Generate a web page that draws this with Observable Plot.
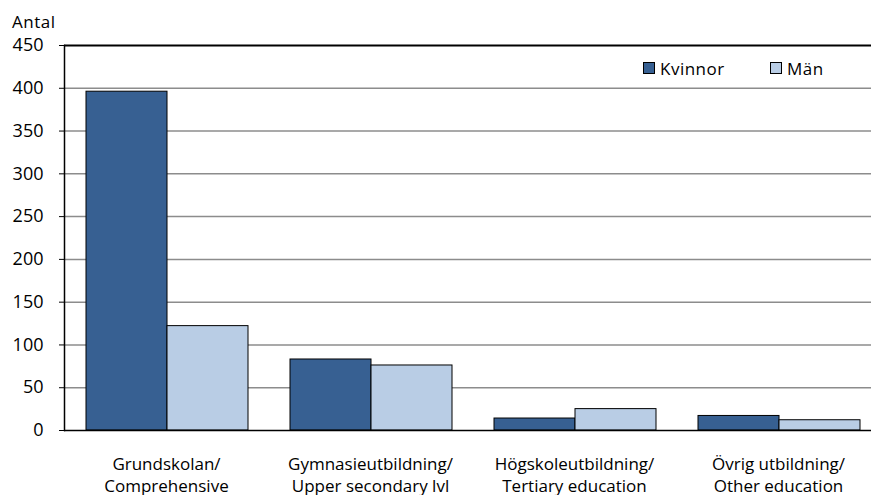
<!DOCTYPE html>
<html>
<head>
<meta charset="utf-8">
<script src="https://cdn.jsdelivr.net/npm/d3@7"></script>
<script src="https://cdn.jsdelivr.net/npm/@observablehq/plot@0.6"></script>
<style>
  html, body { margin: 0; padding: 0; background: #fff; overflow: hidden; }
  #wrap { position: relative; width: 871px; height: 495px; font-family: "Open Sans", "Noto Sans", sans-serif; }
  #ylabel { position: absolute; left: 12px; top: 13px; font-size: 17px; letter-spacing: 0.5px; color: #000; line-height: 1; }
  .item { position: absolute; top: 59.5px; display: flex; align-items: center; gap: 5px; font-size: 17px; letter-spacing: 0.5px; color: #000; line-height: 1; }
  .sw { width: 10px; height: 10px; border: 1px solid #000; display: inline-block; }
</style>
</head>
<body>
<div id="wrap">
  <div id="chart"></div>
  <div id="ylabel">Antal</div>
  <div id="legend"></div>
</div>
<script>
const categories = ["Grundskolan", "Gymnasieutbildning", "Högskoleutbildning", "Övrig utbildning"];
const categoryLabels = ["Grundskolan/\nComprehensive", "Gymnasieutbildning/\nUpper secondary lvl", "Högskoleutbildning/\nTertiary education", "Övrig utbildning/\nOther education"];
const series = ["Kvinnor", "Män"];
const kvinnor = [396, 83, 14, 17];
const man = [122, 76, 25, 12];
const yTicks = [0, 50, 100, 150, 200, 250, 300, 350, 400, 450];
const colors = ["#376092", "#B9CDE5"];

const data = [];
categories.forEach((c, i) => {
  data.push({category: c, series: series[0], value: kvinnor[i]});
  data.push({category: c, series: series[1], value: man[i]});
});
const labelOf = new Map(categories.map((c, i) => [c, categoryLabels[i]]));

const chart = Plot.plot({
  width: 871,
  height: 495,
  marginLeft: 63,
  marginRight: -10,
  marginTop: 45,
  marginBottom: 65,
  style: {fontFamily: "'Open Sans', 'Noto Sans', sans-serif", fontSize: "17px", color: "#000", background: "#fff", overflow: "visible"},
  fx: {domain: categories, paddingInner: 0, paddingOuter: 0, label: null},
  x: {domain: series, paddingInner: 0, paddingOuter: 0.2546, align: 0.53, axis: null},
  y: {domain: [0, 450], label: null},
  color: {domain: series, range: colors},
  marks: [
    Plot.ruleY(yTicks.filter(t => t > 0 && t < 450), {stroke: "#8c8c8c", strokeWidth: 1.5}),
    Plot.barY(data, {fx: "category", x: "series", y: "value", fill: "series", stroke: "#000", strokeWidth: 1}),
    Plot.ruleY([0], {stroke: "#000", strokeWidth: 1.5}),
    Plot.ruleY([450], {stroke: "#000", strokeWidth: 2}),
    Plot.axisY({ticks: yTicks, tickSize: 5, tickPadding: 16, label: null, fontSize: 18, stroke: "#000"}),
    Plot.frame({anchor: "left", facetAnchor: "left", stroke: "#000", strokeWidth: 1.5}),
    Plot.axisFx({anchor: "bottom", tickSize: 0, tickPadding: 24, label: null, fontSize: 17, lineHeight: 1.28, style: {letterSpacing: "0.6px"}, tickFormat: d => labelOf.get(d)})
  ]
});
document.getElementById("chart").appendChild(chart);

const legend = document.getElementById("legend");
const legendLeft = [643, 770];
series.forEach((s, i) => {
  const item = document.createElement("div");
  item.className = "item";
  item.style.left = legendLeft[i] + "px";
  const sw = document.createElement("span");
  sw.className = "sw";
  sw.style.background = colors[i];
  const t = document.createElement("span");
  t.textContent = s;
  item.appendChild(sw);
  item.appendChild(t);
  legend.appendChild(item);
});
</script>
</body>
</html>
